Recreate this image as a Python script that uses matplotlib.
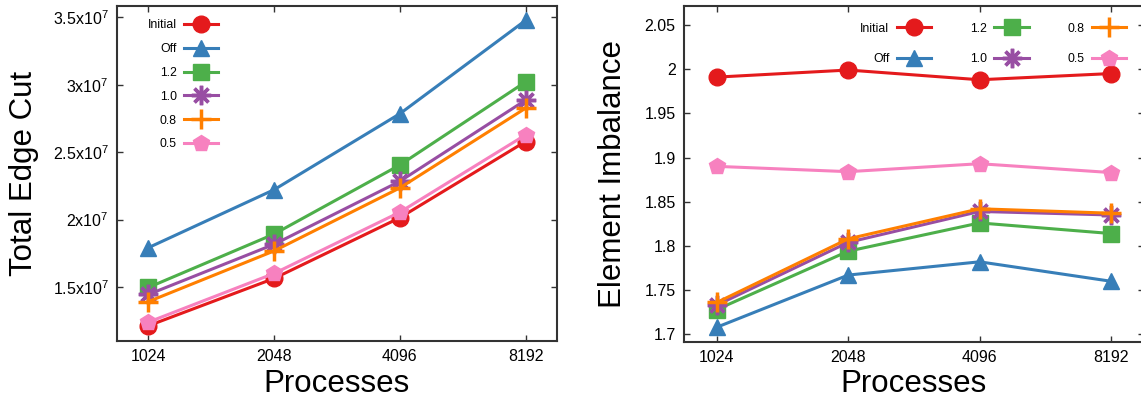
import matplotlib
matplotlib.use("Agg")
import matplotlib.pyplot as plt

plt.rcParams["font.family"] = ["Liberation Sans", "DejaVu Sans"]
plt.rcParams["mathtext.default"] = "regular"

# Данные
processes = ["1024", "2048", "4096", "8192"]
series_names = ["Initial", "Off", "1.2", "1.0", "0.8", "0.5"]

edge_initial = [1.213e7, 1.564e7, 2.014e7, 2.579e7]
edge_off = [1.792e7, 2.222e7, 2.785e7, 3.477e7]
edge_12 = [1.497e7, 1.893e7, 2.405e7, 3.021e7]
edge_10 = [1.445e7, 1.817e7, 2.284e7, 2.886e7]
edge_08 = [1.392e7, 1.768e7, 2.235e7, 2.826e7]
edge_05 = [1.240e7, 1.601e7, 2.055e7, 2.628e7]

imb_initial = [1.991, 1.999, 1.988, 1.995]
imb_off = [1.708, 1.767, 1.782, 1.760]
imb_12 = [1.728, 1.794, 1.826, 1.814]
imb_10 = [1.733, 1.804, 1.839, 1.835]
imb_08 = [1.736, 1.808, 1.842, 1.837]
imb_05 = [1.890, 1.884, 1.893, 1.883]

edge_ticks = [1.5e7, 2e7, 2.5e7, 3e7, 3.5e7]
edge_tick_labels = ["1.5x10$^{7}$", "2x10$^{7}$", "2.5x10$^{7}$", "3x10$^{7}$", "3.5x10$^{7}$"]
imb_ticks = [1.7, 1.75, 1.8, 1.85, 1.9, 1.95, 2.0, 2.05]
imb_tick_labels = ["1.7", "1.75", "1.8", "1.85", "1.9", "1.95", "2", "2.05"]

colors = ["#e41a1c", "#377eb8", "#4daf4a", "#984ea3", "#ff7f00", "#f781bf"]
markers = ["o", "^", "s", (8, 2, 0), "+", "p"]
msizes = [12, 11, 11, 14, 15, 12]

fig = plt.figure(figsize=(11.41, 4), dpi=100)
ax1 = fig.add_axes([117 / 1141, 1 - 341 / 400, 440 / 1141, 335.3 / 400])
ax2 = fig.add_axes([684 / 1141, 1 - 341.7 / 400, 459.8 / 1141, 336 / 400])

x = list(range(len(processes)))


def draw(ax, data):
    for name, vals, c, m, ms in zip(series_names, data, colors, markers, msizes):
        mew = 2.5 if m in ["+", (8, 2, 0)] else 1
        ax.plot(x, vals, color=c, marker=m, markersize=ms, markeredgewidth=mew,
                linewidth=2.2, label=name, clip_on=False)
    ax.set_xlim(-0.25, 3.25)
    ax.set_xticks(x)
    ax.set_xticklabels(processes)
    ax.set_xlabel("Processes", fontsize=22.5, labelpad=3)
    ax.tick_params(direction="in", length=4.5, width=1, labelsize=11.5, pad=6,
                   top=True, right=True, colors="#333333", labelcolor="black")
    for s in ax.spines.values():
        s.set_linewidth(1.5)
        s.set_color("#333333")


draw(ax1, [edge_initial, edge_off, edge_12, edge_10, edge_08, edge_05])
ax1.set_ylim(1.10e7, 3.586e7)
ax1.set_yticks(edge_ticks)
ax1.set_yticklabels(edge_tick_labels)
ax1.set_ylabel("Total Edge Cut", fontsize=22.5, labelpad=10)
ax1.legend(loc="upper left", bbox_to_anchor=(0.07, 0.96), frameon=False,
           markerfirst=False, fontsize=8.8, handlelength=2.8, handletextpad=0.6,
           labelspacing=0.97, borderaxespad=0, borderpad=0)

draw(ax2, [imb_initial, imb_off, imb_12, imb_10, imb_08, imb_05])
ax2.set_ylim(1.6916, 2.0718)
ax2.set_yticks(imb_ticks)
ax2.set_yticklabels(imb_tick_labels)
ax2.set_ylabel("Element Imbalance", fontsize=22.5, labelpad=12)
ax2.legend(loc="upper right", bbox_to_anchor=(0.962, 0.95), frameon=False, ncol=3,
           markerfirst=False, fontsize=8.8, handlelength=2.8, handletextpad=0.6,
           labelspacing=1.5, columnspacing=3.2, borderaxespad=0, borderpad=0)

fig.savefig("out.png", dpi=100)
